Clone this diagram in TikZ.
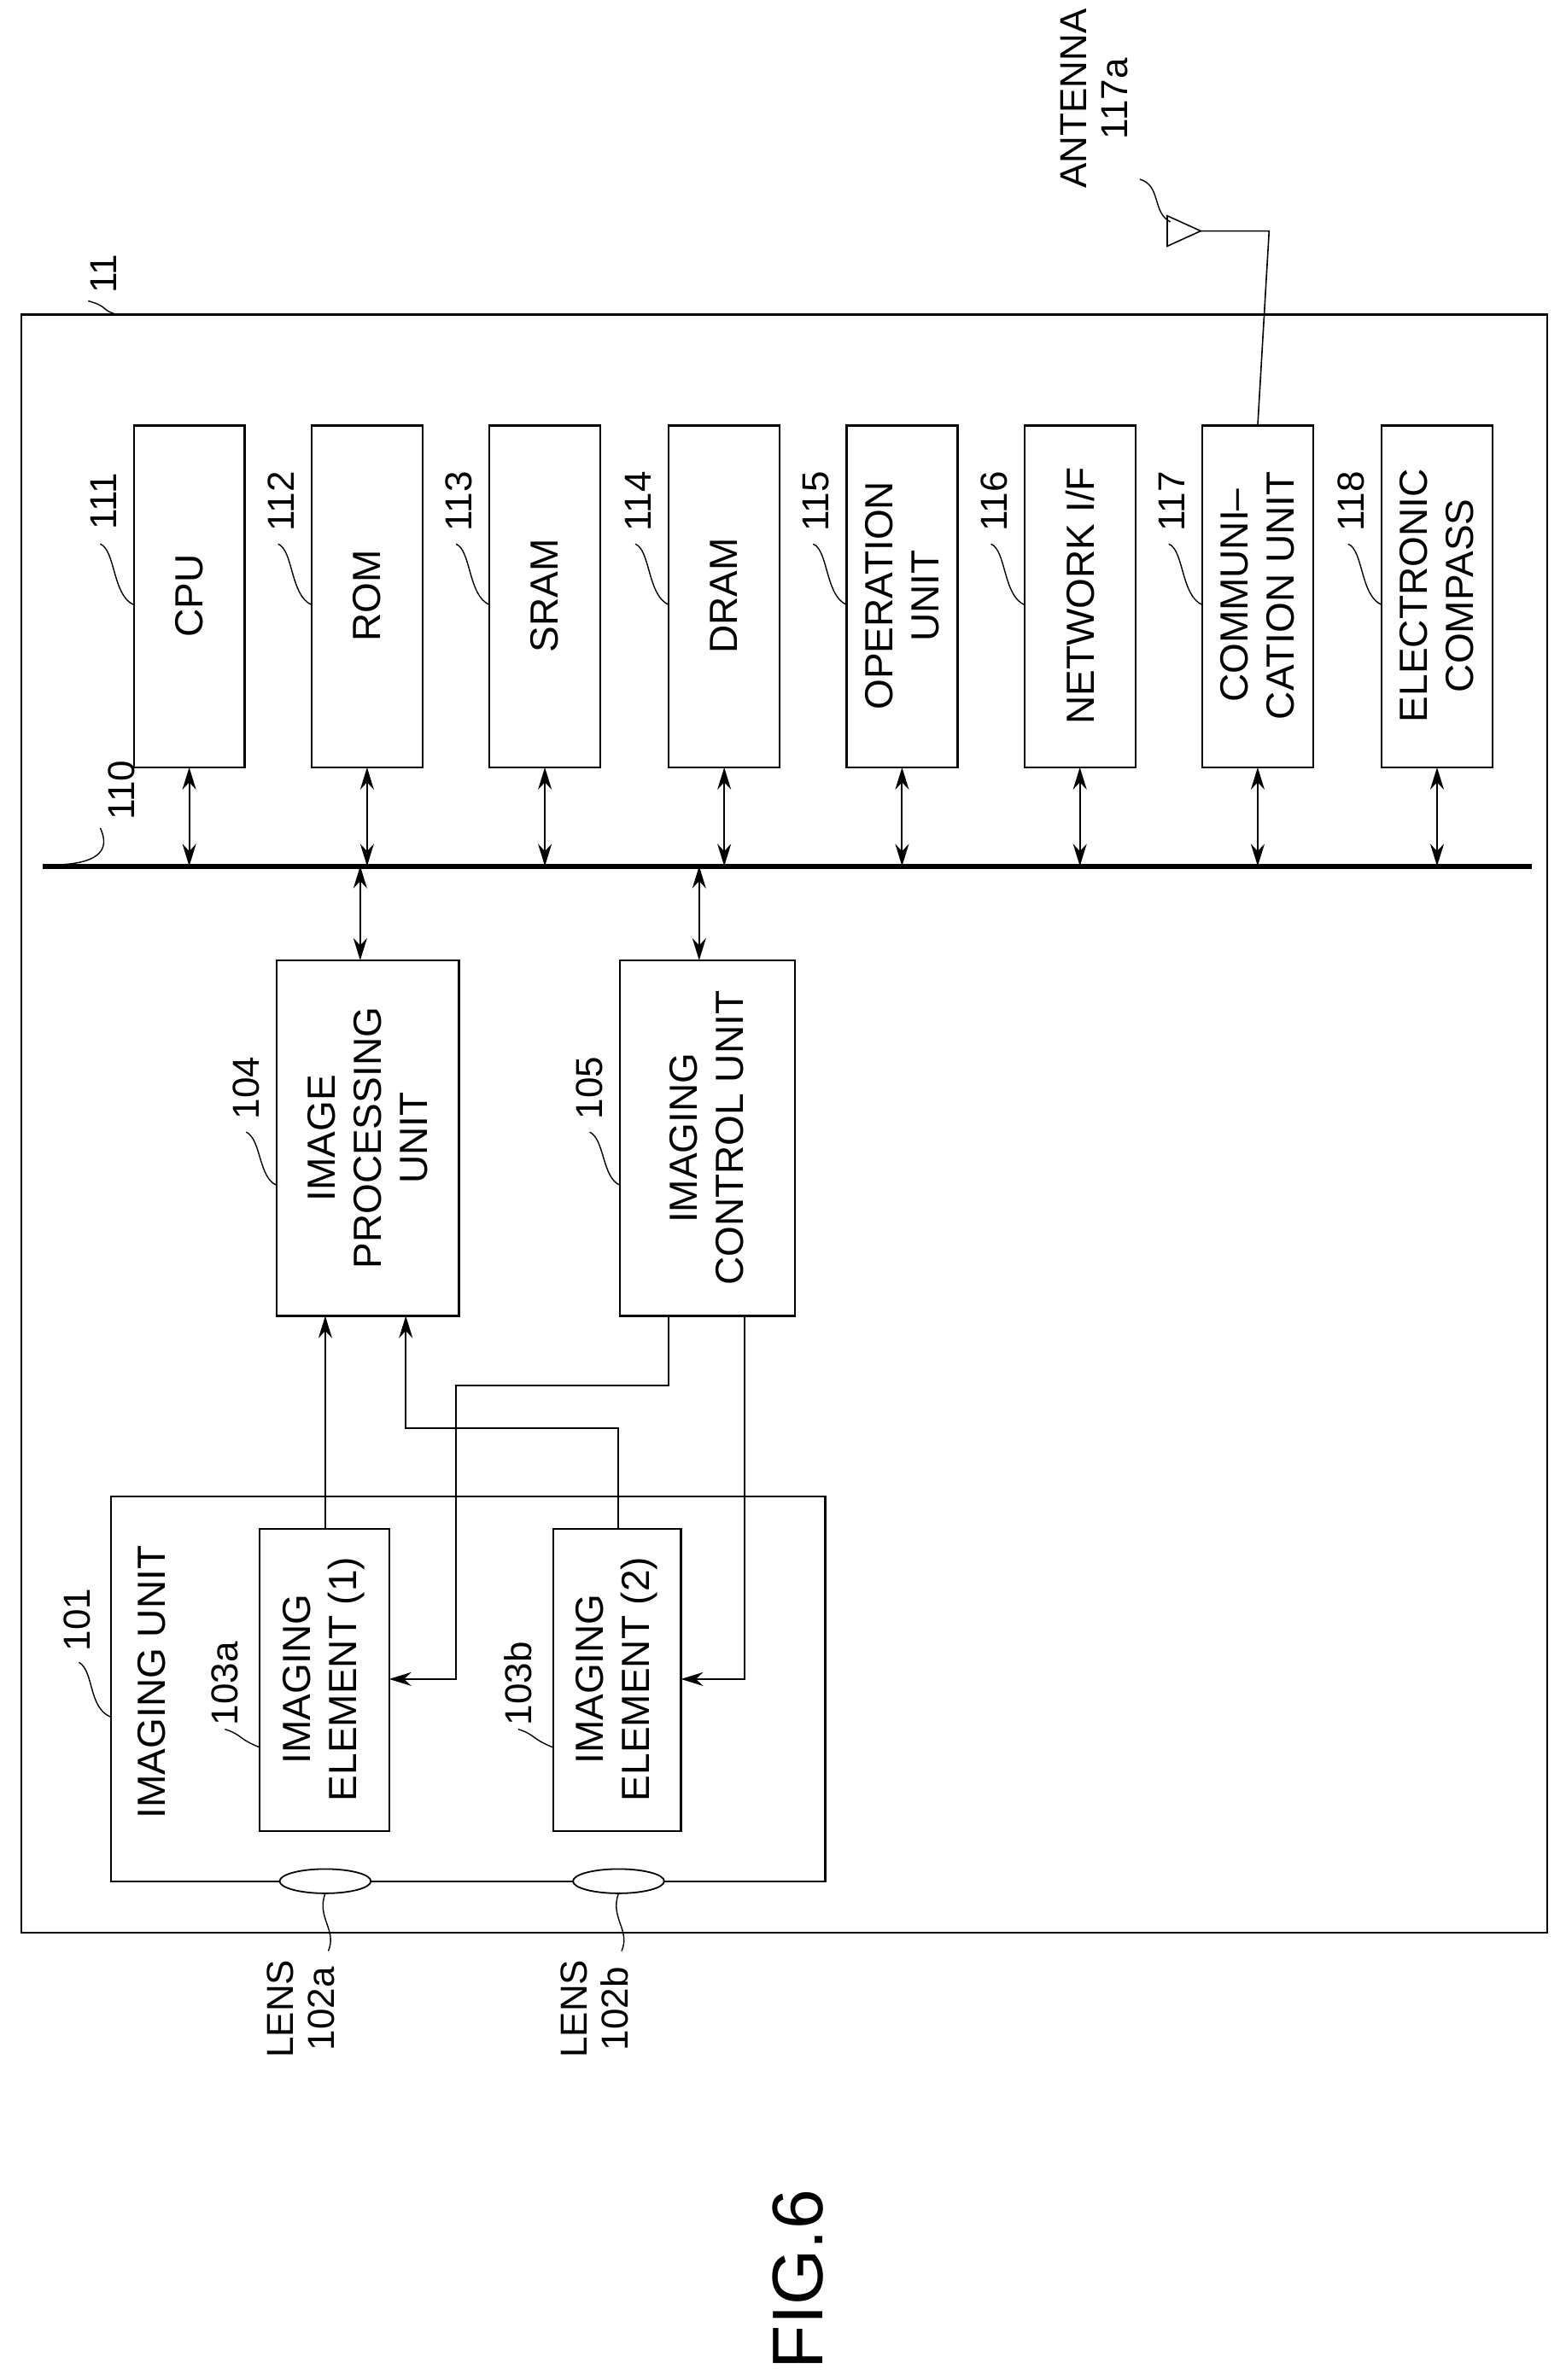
\documentclass[tikz,border=0pt]{standalone}
\usepackage{fontspec}
\setmainfont{Liberation Sans}
\usetikzlibrary{positioning, arrows.meta}

\tikzset{
  blk/.style={draw, line width=2.2pt},
  vtxt/.style={rotate=90, align=center, font=\fontsize{46}{54}\selectfont},
  num/.style={rotate=90, font=\fontsize{44}{50}\selectfont},
  side/.style={rotate=90, align=center, font=\fontsize{44}{48}\selectfont},
  lead/.style={line width=1.4pt},
  dbl/.style={line width=2pt, {Stealth[length=26pt,width=16pt]}-{Stealth[length=26pt,width=16pt]}},
  sgl/.style={line width=2pt, -{Stealth[length=26pt,width=16pt]}},
}

\begin{document}
\begin{tikzpicture}[x=1.78pt, y=-1.78pt]
  \useasboundingbox (0,0) rectangle (1029.8,1566.3);

  % housing 11
  \draw[blk] (14,207) rectangle (1018,1272);
  \node[num] (n11) at (68,180) {11};
  \draw[lead] (58,198) .. controls (72,202) and (66,204) .. (77,207);

  % bus 110
  \coordinate (busL) at (28,570);
  \coordinate (busR) at (1008,570);
  \draw[line width=6pt] (busL) -- (busR);
  \node[num] (n110) at (80,520) {110};
  \draw[lead] (66,545) .. controls (74,562) and (60,568) .. (40,569);

  % top row units
  \foreach \nm/\xl/\txt/\nb in {cpu/88/CPU/111, rom/205/ROM/112, sram/322/SRAM/113,
      dram/440/DRAM/114, oper/557/OPERATION\\UNIT/115, netif/674/{NETWORK I/F}/116,
      comm/791/COMMUNI--\\CATION UNIT/117, comp/909/ELECTRONIC\\COMPASS/118} {
    \draw[blk] (\xl,280) rectangle ++(73,225);
    \node[vtxt] (\nm) at (\xl+36.5,392) {\txt};
    \node[num] (n\nm) at (\xl-20,330) {\nb};
    \draw[lead] (\xl-22,358) .. controls (\xl-12,362) and (\xl-14,392) .. (\xl,398);
    \coordinate (\nm-b) at (\xl+36.5,505);
    \coordinate (\nm-bus) at (\xl+36.5,570);
    \draw[dbl] (\nm-bus) -- (\nm-b);
  }

  % antenna 117a
  \coordinate (antTop) at (835,152);
  \coordinate (antTip) at (790,152);
  \draw[line width=1.6pt] (comm-b |- 0,280) -- (antTop) -- (antTip);
  \draw[line width=1.6pt] (790,152) -- (768,142) -- (768,162) -- cycle;
  \node[side] (antenna) at (720,65) {ANTENNA\\117a};
  \draw[lead] (750,118) .. controls (764,122) and (758,140) .. (770,146);

  % image processing 104 and imaging control 105
  \draw[blk] (182,632) rectangle (302,866);
  \node[vtxt] (improc) at (242,749) {IMAGE\\PROCESSING\\UNIT};
  \node[num] (n104) at (162,716) {104};
  \draw[lead] (162,745) .. controls (172,750) and (170,775) .. (182,780);
  \draw[blk] (408,632) rectangle (523,866);
  \node[vtxt] (imctrl) at (465,749) {IMAGING\\CONTROL UNIT};
  \node[num] (n105) at (388,716) {105};
  \draw[lead] (388,745) .. controls (398,750) and (396,775) .. (408,780);
  \coordinate (bus104) at (237,570);
  \coordinate (top104) at (237,632);
  \coordinate (bus105) at (460,570);
  \coordinate (top105) at (460,632);
  \draw[dbl] (bus104) -- (top104);
  \draw[dbl] (bus105) -- (top105);

  % imaging unit 101
  \draw[blk] (73,985) rectangle (543,1238);
  \node[vtxt] (imunit) at (100,1107) {IMAGING UNIT};
  \node[num] (n101) at (51,1066) {101};
  \draw[lead] (52,1094) .. controls (62,1100) and (58,1124) .. (73,1130);
  \draw[blk] (171,1006) rectangle (256,1205);
  \node[vtxt] (elem1) at (213,1105) {IMAGING\\ELEMENT (1)};
  \node[num] (n103a) at (148,1108) {103a};
  \draw[lead] (148,1138) .. controls (160,1142) and (156,1144) .. (171,1150);
  \draw[blk] (364,1006) rectangle (448,1205);
  \node[vtxt] (elem2) at (406,1105) {IMAGING\\ELEMENT (2)};
  \node[num] (n103b) at (341,1108) {103b};
  \draw[lead] (341,1138) .. controls (353,1142) and (349,1144) .. (364,1150);

  % signal lines
  \draw[sgl] (214,1006) -- (214,866);
  \draw[sgl] (407,1006) -- (407,940) -- (267,940) -- (267,866);
  \draw[sgl] (440,866) -- (440,912) -- (300,912) -- (300,1105) -- (256,1105);
  \draw[sgl] (490,866) -- (490,1105) -- (448,1105);

  % lenses
  \draw[line width=1.8pt, fill=white] (214,1238) ellipse (30 and 8);
  \draw[line width=1.8pt, fill=white] (407,1238) ellipse (30 and 8);
  \node[side] (lensA) at (198,1322) {LENS\\102a};
  \node[side] (lensB) at (391,1322) {LENS\\102b};
  \draw[lead] (214,1246) .. controls (208,1262) and (222,1270) .. (216,1284);
  \draw[lead] (407,1246) .. controls (401,1262) and (415,1270) .. (409,1284);

  % figure caption
  \node[rotate=90, font=\fontsize{84}{90}\selectfont] (fig) at (525,1500) {FIG.6};
\end{tikzpicture}
\end{document}
